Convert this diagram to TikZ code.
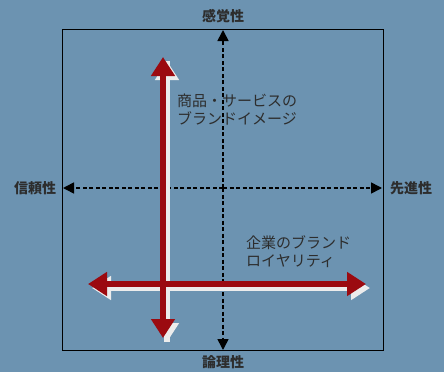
\documentclass[tikz,border=0pt]{standalone}
\usepackage{fontspec}
\newfontfamily\jpfont{Noto Sans CJK JP}
\usetikzlibrary{arrows.meta}
\definecolor{bgblue}{RGB}{108,147,177}
\definecolor{axisred}{RGB}{155,10,16}
\definecolor{txtgray}{RGB}{45,45,45}
\tikzset{
  axislabel/.style={font=\jpfont\bfseries\fontsize{14}{14}\selectfont, text=txtgray, inner sep=0pt},
  notetext/.style={font=\jpfont\fontsize{15}{18}\selectfont, text=txtgray, align=left, anchor=north west, inner sep=0pt},
  dasharrow/.style={line width=1.6pt, dash pattern=on 4pt off 2.5pt, -{Triangle[width=11pt,length=11pt]}},
  bigarrow/.style={line width=6pt, -{Triangle[width=23pt,length=19pt]}},
  bigarrows/.style={line width=6pt, {Triangle[width=23pt,length=19pt]}-{Triangle[width=23pt,length=19pt]}}
}
\begin{document}
\begin{tikzpicture}[x=1pt,y=-1pt]
			%%%%% START %%%%%
			
			\fill[bgblue] (0, 0) rectangle (444, 372);
			\useasboundingbox (0, 0) rectangle (444, 372);
			
			\draw[line width=0.8pt] (62, 29) rectangle (383, 350);
			
			\coordinate (top) at (223, 30);
			\coordinate (bottom) at (223, 350);
			\coordinate (left) at (63, 188);
			\coordinate (right) at (382, 188);
			\coordinate (center) at (223, 188);
			
			\node[axislabel] (kankaku) at (223, 16) {感覚性};
			\node[axislabel] (ronri) at (223, 362) {論理性};
			\node[axislabel] (shinrai) at (35, 188) {信頼性};
			\node[axislabel] (senshin) at (411, 188) {先進性};
			
			\draw[dasharrow] (center) -- (top);
			\draw[dasharrow] (center) -- (bottom);
			\draw[dasharrow] (center) -- (left);
			\draw[dasharrow] (center) -- (right);
			
			% shadows
			\coordinate (vtop) at (163, 57);
			\coordinate (vbot) at (163, 338);
			\coordinate (hleft) at (88, 284);
			\coordinate (hright) at (366, 284);
			\draw[bigarrow, white!85!gray] ([shift={(4,4)}]vtop) -- ([shift={(4,4)}]vbot);
			\draw[bigarrow, white!85!gray] ([shift={(4,4)}]vbot) -- ([shift={(4,4)}]vtop);
			\draw[bigarrows, white!85!gray] ([shift={(4,4)}]hleft) -- ([shift={(4,4)}]hright);
			
			% arrows
			\draw[bigarrow, axisred] (163, 170) -- (vtop);
			\draw[bigarrow, axisred] (163, 170) -- (vbot);
			\draw[bigarrows, axisred] (hleft) -- (hright);
			
			\node[notetext] (shohin) at (177, 94) {商品・サービスの\\ブランドイメージ};
			\node[notetext] (kigyo) at (246, 235) {企業のブランド\\ロイヤリティ};
			
			%%%%% END %%%%%
\end{tikzpicture}
\end{document}
